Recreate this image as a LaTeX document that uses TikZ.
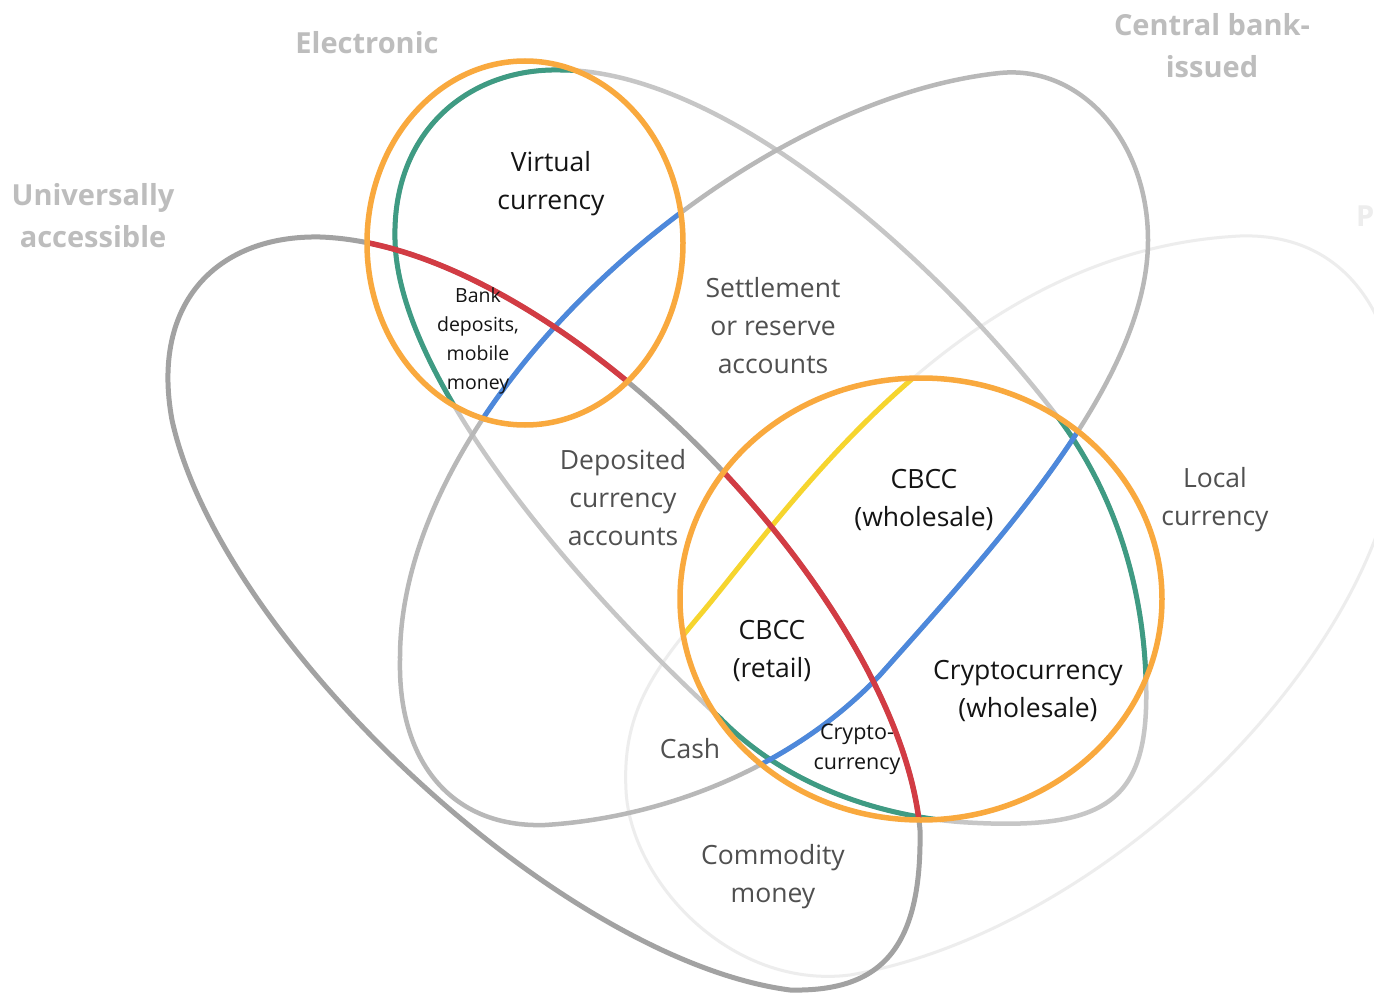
\documentclass[tikz,border=0pt]{standalone}
\usepackage{fontspec}
\setmainfont{Open Sans}
\definecolor{petalU}{HTML}{A2A2A2}
\definecolor{petalC}{HTML}{B8B8B8}
\definecolor{petalE}{HTML}{C6C6C6}
\definecolor{petalP}{HTML}{EDEDED}
\definecolor{redline}{HTML}{D23C44}
\definecolor{blueline}{HTML}{4D88DB}
\definecolor{greenline}{HTML}{3F9B83}
\definecolor{yellowline}{HTML}{F6D52E}
\definecolor{ring}{HTML}{F9A93E}
\definecolor{headtext}{HTML}{BDBDBD}
\definecolor{softtext}{HTML}{505050}
\definecolor{darktext}{HTML}{141414}
% outlines of the four petals
\newcommand\petalUpath{(320,237) .. controls (560,245) and (900,600) .. (920,830)
  .. controls (922,950) and (880,992) .. (790,990)
  .. controls (560,960) and (220,640) .. (172,420)
  .. controls (150,300) and (220,235) .. (320,237) -- cycle}
\newcommand\petalCpath{(1000,73) .. controls (1080,65) and (1148,140) .. (1148,240)
  .. controls (1148,380) and (1000,540) .. (880,675)
  .. controls (790,770) and (660,818) .. (545,825)
  .. controls (450,828) and (398,760) .. (400,660)
  .. controls (398,400) and (740,100) .. (1000,73) -- cycle}
\newcommand\petalEpath{(560,70) .. controls (470,68) and (392,130) .. (395,240)
  .. controls (398,380) and (580,590) .. (720,718)
  .. controls (780,780) and (870,815) .. (960,822)
  .. controls (1110,832) and (1150,800) .. (1146,680)
  .. controls (1142,560) and (1100,474) .. (1060,420)
  .. controls (930,250) and (720,70) .. (560,70) -- cycle}
\newcommand\petalPpath{(626,790) .. controls (622,715) and (652,672) .. (700,615)
  .. controls (790,508) and (960,250) .. (1240,236)
  .. controls (1360,232) and (1405,340) .. (1398,440)
  .. controls (1385,650) and (1110,930) .. (850,975)
  .. controls (730,990) and (630,880) .. (626,790) -- cycle}
\newcommand\ringTop{(525,243) ellipse [x radius=158pt, y radius=182pt]}
\newcommand\ringBottom{(921,599) ellipse [x radius=241pt, y radius=221pt]}
\begin{document}
\begin{tikzpicture}[x=1pt, y=-1pt,
  ringline/.style={draw=ring, line width=5.5pt},
  head/.style={text=headtext, font=\fontsize{29}{42}\selectfont\bfseries, align=center, inner sep=0pt},
  soft/.style={text=softtext, font=\fontsize{26.5}{38}\selectfont, align=center, inner sep=0pt},
  dark/.style={text=darktext, font=\fontsize{26.5}{38}\selectfont, align=center, inner sep=0pt},
  small/.style={text=darktext, font=\fontsize{19.5}{29}\selectfont, align=center, inner sep=0pt},
  smaller/.style={small, font=\fontsize{21.5}{30}\selectfont}]
\useasboundingbox[fill=white] (0,0) rectangle (1374,995);
\clip (0,0) rectangle (1374,995);

% grey petals
\draw[petalP, line width=3pt] \petalPpath;
\draw[petalE, line width=4.5pt] \petalEpath;
\draw[petalC, line width=4.5pt] \petalCpath;
\draw[petalU, line width=5pt] \petalUpath;

% coloured outline segments inside the upper ring
\begin{scope}
  \clip \ringTop;
  \draw[greenline, line width=5pt] \petalEpath;
  \draw[blueline, line width=5pt] \petalCpath;
  \draw[redline, line width=5.5pt] \petalUpath;
\end{scope}
% coloured outline segments inside the lower ring
\begin{scope}
  \clip \ringBottom;
  \draw[yellowline, line width=5pt] \petalPpath;
  \draw[greenline, line width=5pt] \petalEpath;
  \draw[blueline, line width=5pt] \petalCpath;
  \draw[redline, line width=5.5pt] \petalUpath;
\end{scope}

% highlight rings
\draw[ringline] \ringTop;
\draw[ringline] \ringBottom;

% petal titles
\node[head] (tE) at (367,43) {Electronic};
\node[head] (tC) at (1212,46) {Central bank-\\issued};
\node[head] (tU) at (93,216) {Universally\\accessible};
\node[head, text=petalP, anchor=west] (tP) at (1356,220) {Peer-to-peer};

% region labels
\node[dark] (vc) at (551,184) {Virtual\\currency};
\node[small] (bd) at (478,341) {Bank\\deposits,\\mobile\\money};
\node[soft] (sr) at (773,326) {Settlement\\or reserve\\accounts};
\node[soft] (dc) at (623,498) {Deposited\\currency\\accounts};
\node[dark] (cw) at (924,500) {CBCC\\(wholesale)};
\node[soft] (lc) at (1215,500) {Local\\currency};
\node[dark] (cr) at (772,651) {CBCC\\(retail)};
\node[dark] (kw) at (1028,691) {Cryptocurrency\\(wholesale)};
\node[soft] (ca) at (690,749) {Cash};
\node[smaller] (kc) at (857,749) {Crypto-\\currency};
\node[soft] (cm) at (773,877) {Commodity\\money};
\end{tikzpicture}
\end{document}
